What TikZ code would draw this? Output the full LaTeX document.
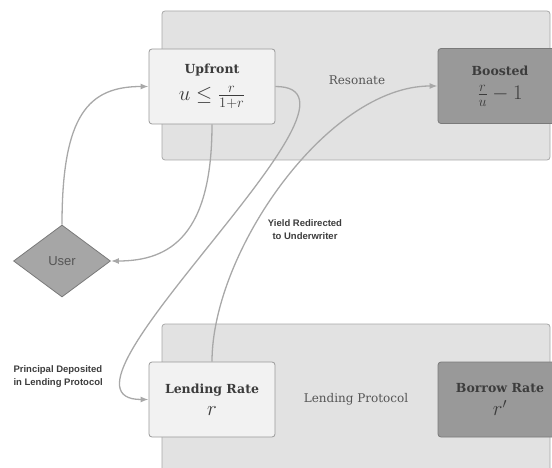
\documentclass[tikz,border=0pt]{standalone}
\usepackage{fontspec}
\setmainfont{DejaVu Serif}
\newfontfamily\labelfont{Liberation Sans}
\usetikzlibrary{shapes.geometric,arrows.meta}
\definecolor{panelgray}{HTML}{E2E2E2}
\definecolor{paneledge}{HTML}{A8A8A8}
\definecolor{lightfill}{HTML}{F2F2F2}
\definecolor{boxedge}{HTML}{9A9A9A}
\definecolor{darkfill}{HTML}{999999}
\definecolor{darkedge}{HTML}{7A7A7A}
\definecolor{userfill}{HTML}{A6A6A6}
\definecolor{flowgray}{HTML}{A8A8A8}
\definecolor{textdark}{HTML}{3C3C3C}
\definecolor{textmid}{HTML}{555555}
\begin{document}
\begin{tikzpicture}[x=1pt, y=-1pt,
    % Styles
    panel/.style={draw=paneledge, fill=panelgray, rounded corners=3pt, line width=0.8pt},
    lightbox/.style={draw=boxedge, fill=lightfill, rounded corners=3pt, line width=0.8pt, minimum width=126pt, minimum height=75pt, align=center, text=textdark, font=\fontsize{12.5}{15}\selectfont},
    darkbox/.style={lightbox, draw=darkedge, fill=darkfill, minimum width=124pt},
    userbox/.style={diamond, draw=darkedge, fill=userfill, line width=0.8pt, minimum width=97pt, minimum height=72pt, inner sep=0pt, text=textmid, font=\labelfont\fontsize{13}{15}\selectfont},
    panellabel/.style={text=textmid, font=\fontsize{12}{15}\selectfont},
    flowlabel/.style={text=textdark, font=\labelfont\bfseries\fontsize{9.5}{13}\selectfont},
    flow/.style={draw=flowgray, line width=1.3pt, -{Latex[length=8pt,width=6pt]}},
]
\useasboundingbox (0,0) rectangle (552,468);

% Resonate panel
\draw[panel] (162,11) rectangle (550,160);
\node[panellabel] (resonate) at (357,80) {Resonate};
\node[lightbox] (upfront) at (212,86.5) {\textbf{Upfront}\\[9pt] {\fontsize{20}{22}\selectfont$u \leq \frac{r}{1+r}$}};
\node[darkbox] (boosted) at (500,86) {\textbf{Boosted}\\[9pt] {\fontsize{22}{24}\selectfont$\frac{r}{u}-1$}};

% Lending Protocol panel
\draw[panel] (162,324) rectangle (550,480);
\node[panellabel] (protocol) at (356,399) {Lending Protocol};
\node[lightbox] (lending) at (212,399.5) {\textbf{Lending Rate}\\[7pt] {\fontsize{22}{24}\selectfont$r$}};
\node[darkbox] (borrow) at (500,399.5) {\textbf{Borrow Rate}\\[7pt] {\fontsize{22}{24}\selectfont$r'$}};

% User
\node[userbox] (user) at (62,261) {User};

% Flows
\draw[flow] (user.north) .. controls +(0,-110) and +(-60,0) .. (upfront.west);
\draw[flow] (upfront.south) .. controls +(0,110) and +(60,0) .. (user.east);
\draw[flow] (upfront.east) .. controls +(120,0) and +(-120,0) .. (lending.west);
\draw[flow] (lending.north) .. controls +(0,-110) and +(-110,0) .. (boosted.west);

% Flow labels
\node[flowlabel, anchor=west, align=left] (principal) at (10,377) {Principal Deposited\\in Lending Protocol};
\node[flowlabel, align=center] (yield) at (305,230) {Yield Redirected\\to Underwriter};

\end{tikzpicture}
\end{document}
